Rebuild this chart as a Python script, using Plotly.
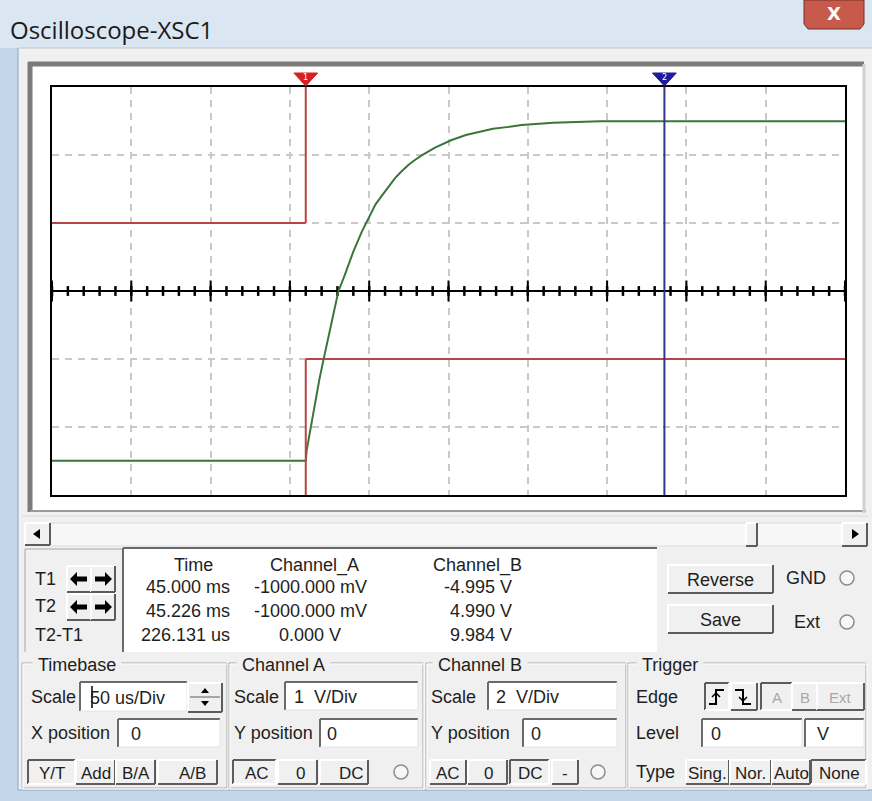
import numpy as np
import plotly.graph_objects as go

# ---------------- measurement data ----------------
# time axis: microseconds from the left edge of the screen (50 us/Div, 10 divisions)
t1_us = 160.0
t2_us = 386.131

# Channel A (1 V/Div): square wave stepping down at T1
chA_t = [0.0, 160.0, 160.0, 500.0]
chA_v = [1.0, 1.0, -1.0, -1.0]

# Channel B (2 V/Div): capacitor charging from -5 V to +5 V
chB_t = [0.0, 160.0, 160.6, 163.0, 165.8, 168.5, 171.1, 175.3, 180.5, 184.7,
         190.0, 195.3, 200.5, 204.0, 207.9, 212.0, 216.3, 220.0, 224.5, 229.0,
         233.1, 241.5, 252.0, 261.0, 269.9, 278.0, 286.7, 296.1, 315.9, 345.5,
         500.0]
chB_v = [-4.995, -4.995, -4.68, -4.05, -3.25, -2.62, -2.04, -1.16, -0.02, 0.48,
         1.16, 1.74, 2.25, 2.55, 2.80, 3.07, 3.32, 3.50, 3.70, 3.86,
         3.99, 4.22, 4.44, 4.59, 4.69, 4.77, 4.82, 4.88, 4.95, 4.99,
         4.99]

# cursor read-out table
readout_rows = ["T1", "T2", "T2-T1"]
readout_time = ["45.000 ms", "45.226 ms", "226.131 us"]
readout_chA = ["-1000.000 mV", "-1000.000 mV", "0.000 V"]
readout_chB = ["-4.995 V", "4.990 V", "9.984 V"]

scale_timebase = "50 us/Div"
scale_chA = "1  V/Div"
scale_chB = "2  V/Div"

# ---------------- helpers (pixel layout of the instrument window) ----------------
W, H = 872, 801
UI_FONT = "Liberation Sans, Arial, sans-serif"
TXT = "#1e1e1e"
FACE = "#f0f0f0"
DARK = "#5c5c5c"

shapes = []
annotations = []


def fx(x):
    return x / W


def fy(y):
    return 1 - y / H


def rect(x0, y0, x1, y1, fill=None, line=None, width=1):
    shapes.append(dict(type="rect", xref="paper", yref="paper",
                       x0=fx(x0), x1=fx(x1), y0=fy(y1), y1=fy(y0),
                       fillcolor=fill or "rgba(0,0,0,0)",
                       line=dict(color=line or "rgba(0,0,0,0)", width=width if line else 0),
                       layer="below"))


def line(x0, y0, x1, y1, color, width=1):
    shapes.append(dict(type="line", xref="paper", yref="paper",
                       x0=fx(x0), x1=fx(x1), y0=fy(y0), y1=fy(y1),
                       line=dict(color=color, width=width), layer="below"))


def path(points, fill, color=None, width=0):
    d = "M " + " L ".join(f"{fx(x):.5f},{fy(y):.5f}" for x, y in points) + " Z"
    shapes.append(dict(type="path", xref="paper", yref="paper", path=d,
                       fillcolor=fill, line=dict(color=color or fill, width=width),
                       layer="below"))


def polyline(points, color, width=2):
    d = "M " + " L ".join(f"{fx(x):.5f},{fy(y):.5f}" for x, y in points)
    shapes.append(dict(type="path", xref="paper", yref="paper", path=d,
                       line=dict(color=color, width=width), layer="below"))


def text(x, y, s, size=18, anchor="left", color=TXT, family=UI_FONT, bg=None, bold=False):
    if bold:
        s = f"<b>{s}</b>"
    annotations.append(dict(xref="paper", yref="paper", x=fx(x), y=fy(y), text=s,
                            showarrow=False, xanchor=anchor, yanchor="middle",
                            font=dict(family=family, size=size, color=color),
                            bgcolor=bg, borderpad=0))


def button(x0, y0, x1, y1, label="", pressed=False, tx=None, size=17, color=TXT):
    rect(x0, y0, x1, y1, fill=FACE)
    hi, lo = ("#ffffff", DARK) if not pressed else (DARK, "#ffffff")
    line(x0, y0, x1, y0, hi, 2)
    line(x0, y0, x0, y1, hi, 2)
    line(x0, y1, x1, y1, lo, 2)
    line(x1, y0, x1, y1, lo, 2)
    if label:
        text(tx if tx is not None else (x0 + x1) / 2, (y0 + y1) / 2 + 1, label,
             size=size, anchor="center", color=color)


def textbox(x0, y0, x1, y1, value="", tx=None, size=18):
    rect(x0, y0, x1, y1, fill="#ffffff")
    line(x0, y0, x1, y0, "#6a6a6a", 2)
    line(x0, y0, x0, y1, "#6a6a6a", 2)
    line(x0, y1, x1, y1, "#e2e2e2", 1)
    line(x1, y0, x1, y1, "#e2e2e2", 1)
    if value:
        text(tx if tx is not None else x0 + 6, (y0 + y1) / 2 + 1, value, size=size)


def group(x0, y0, x1, y1, title, tx):
    for dx, col in ((0, "#a6a6a6"), (1, "#ffffff")):
        line(x0 + dx, y0 + dx, x1 + dx, y0 + dx, col, 1)
        line(x0 + dx, y0 + dx, x0 + dx, y1 + dx, col, 1)
        line(x0 + dx, y1 + dx, x1 + dx, y1 + dx, col, 1)
        line(x1 + dx, y0 + dx, x1 + dx, y1 + dx, col, 1)
    text(tx, y0 + 2, "&nbsp;" + title + "&nbsp;", size=18, bg=FACE)


def radio(cx, cy):
    shapes.append(dict(type="circle", xref="paper", yref="paper",
                       x0=fx(cx - 7), x1=fx(cx + 7), y0=fy(cy + 7), y1=fy(cy - 7),
                       line=dict(color="#8c8c8c", width=1.5), fillcolor="#f7f7f7",
                       layer="below"))


def arrow(cx, cy, direction):
    s = -1 if direction == "left" else 1
    pts = [(cx + 9 * s, cy), (cx + 2 * s, cy - 7), (cx + 2 * s, cy - 2.5),
           (cx - 8 * s, cy - 2.5), (cx - 8 * s, cy + 2.5), (cx + 2 * s, cy + 2.5),
           (cx + 2 * s, cy + 7)]
    path(pts, "#000000")


# ---------------- window frame ----------------
rect(0, 0, W, 48, fill="#dae6f1")
rect(0, 48, 18, H, fill="#c3d6ea")
rect(0, 790, W, H, fill="#c3d6ea")
line(18, 48, 18, 790, "#8fa6bd", 1)
line(18, 48, W, 48, "#b8c6d4", 1)
line(18, 790, W, 790, "#8fa6bd", 1)

# close button
path([(804, 0), (864, 0), (864, 24), (860, 29), (808, 29), (804, 24)], "#c85a4c", "#7c2c22", 1)
text(834, 13, "X", size=18, anchor="center", color="#ffffff", bold=True,
     family="DejaVu Sans, sans-serif")
text(9, 30, "Oscilloscope-XSC1", size=24, color="#1a1a1a", family="Open Sans, sans-serif")

# ---------------- screen frame ----------------
rect(30, 64, 864, 512, fill="#ffffff")
line(28, 64, 864, 64, "#7b7b7b", 5)
line(30, 62, 30, 512, "#7b7b7b", 5)
line(30, 511, 866, 511, "#9a9a9a", 2)
line(864, 64, 864, 513, "#d0d0d0", 3)
line(22, 516, 868, 516, "#d8d8d8", 1)

# ---------------- scrollbar ----------------
rect(50, 523, 842, 546, fill="#f7f7f7")
line(50, 523, 842, 523, "#dcdcdc", 1)
line(50, 546, 842, 546, "#dcdcdc", 1)
button(25, 523, 50, 545)
path([(33, 534), (40, 529), (40, 539)], "#000000")
button(842, 523, 867, 546)
path([(859, 534), (852, 529), (852, 539)], "#000000")
button(746, 523, 757, 546)

# ---------------- cursor read-out ----------------
line(25, 549, 122, 549, "#a6a6a6", 1)
line(25, 549, 25, 652, "#a6a6a6", 1)
rect(123, 548, 657, 652, fill="#ffffff")
line(123, 548, 657, 548, "#6a6a6a", 2)
line(123, 548, 123, 652, "#6a6a6a", 2)

row_y = [579, 606, 635]
for name, yy in zip(readout_rows, row_y):
    text(34, yy, name, size=18)
for yy in (579, 607):
    button(67, yy - 13, 91, yy + 13)
    button(91, yy - 13, 115, yy + 13)
    arrow(79, yy, "left")
    arrow(103, yy, "right")

val_y = [587, 611, 635]
text(193, 565, "Time", anchor="center")
text(314, 565, "Channel_A", anchor="center")
text(432, 565, "Channel_B", anchor="left")
for yy, tm, a, b in zip(val_y, readout_time, readout_chA, readout_chB):
    text(231, yy, tm, anchor="right")
    text(310, yy, a, anchor="center")
    text(513, yy, b, anchor="right")

button(668, 565, 773, 593, "Reverse", size=18)
button(668, 605, 773, 633, "Save", size=18)
text(785, 578, "GND", size=18)
radio(847, 578)
text(793, 622, "Ext", size=18)
radio(847, 622)

# ---------------- control groups ----------------
group(22, 663, 227, 788, "Timebase", 32)
group(229, 663, 423, 788, "Channel A", 236)
group(426, 663, 626, 788, "Channel B", 432)
group(628, 663, 866, 788, "Trigger", 636)

# Timebase
text(30, 697, "Scale")
textbox(80, 682, 187, 711, scale_timebase, tx=89)
line(92, 686, 92, 708, "#000000", 1.5)
button(188, 683, 222, 712)
line(190, 697, 220, 697, DARK, 1)
path([(201, 693), (209, 693), (205, 688)], "#000000")
path([(201, 701), (209, 701), (205, 706)], "#000000")
text(30, 733, "X position")
textbox(118, 719, 220, 747, "0", tx=130)
button(28, 760, 75, 784, "Y/T", pressed=True)
button(76, 760, 115, 784, "Add")
button(116, 760, 155, 784, "B/A")
button(158, 760, 217, 784, "A/B", tx=192)

# Channel A
text(233, 697, "Scale")
textbox(285, 682, 418, 710, scale_chA, tx=293)
text(233, 733, "Y position")
textbox(320, 719, 418, 747, "0", tx=326)
button(233, 760, 276, 784, "AC", pressed=True, tx=257)
button(278, 760, 317, 784, "0", tx=300)
button(320, 760, 368, 784, "DC", tx=351)
radio(401, 772)

# Channel B
text(430, 697, "Scale")
textbox(488, 682, 617, 710, scale_chB, tx=495)
text(430, 733, "Y position")
textbox(523, 719, 617, 747, "0", tx=530)
button(430, 760, 466, 784, "AC", tx=448)
button(468, 760, 507, 784, "0", tx=488)
button(510, 760, 549, 784, "DC", pressed=True, tx=530)
button(552, 760, 578, 784, "-")
radio(598, 772)

# Trigger
text(635, 697, "Edge")
button(705, 683, 729, 710, pressed=True)
polyline([(709, 704), (716, 704), (716, 690), (724, 690)], "#000000")
polyline([(712, 697), (716, 693), (720, 697)], "#000000", 1.5)
button(731, 683, 757, 710)
polyline([(735, 690), (743, 690), (743, 704), (751, 704)], "#000000")
polyline([(739, 697), (743, 701), (747, 697)], "#000000", 1.5)
button(761, 683, 792, 710, "A", pressed=True, color="#a8a8a8", size=15)
button(792, 683, 817, 710, "B", color="#a8a8a8", size=15)
button(817, 683, 864, 710, "Ext", color="#a8a8a8", size=15)
text(635, 733, "Level")
textbox(702, 719, 802, 747, "0", tx=710)
textbox(805, 719, 864, 747, "V", tx=816)
text(635, 772, "Type")
button(686, 760, 729, 784, "Sing.", tx=707)
button(730, 760, 771, 784, "Nor.", tx=750)
button(772, 760, 810, 784, "Auto", tx=791)
button(811, 760, 866, 784, "None", pressed=True, tx=839)

# ---------------- oscilloscope screen ----------------
RED = "#b94444"
GREEN = "#3a763a"
BLUE = "#34348a"

fig = go.Figure()

# Channel A: levels before / after the step (transition hidden under the T1 cursor)
k = chA_t.index(t1_us)
fig.add_trace(go.Scatter(x=chA_t[:k + 1] + [None] + chA_t[k + 1:],
                         y=chA_v[:k + 1] + [None] + chA_v[k + 1:],
                         mode="lines", line=dict(color=RED, width=2), name="Channel_A"))

# Channel B on its own 2 V/Div scale
fig.add_trace(go.Scatter(x=chB_t, y=chB_v, yaxis="y2", mode="lines",
                         line=dict(color=GREEN, width=2), name="Channel_B"))

# centre axis with division and sub-division ticks
minor = np.arange(0, 501, 10)
major = np.arange(0, 501, 50)
fig.add_trace(go.Scatter(x=minor, y=np.zeros_like(minor), mode="markers",
                         marker=dict(symbol="line-ns", size=7,
                                     line=dict(color="#000000", width=2.5)),
                         hoverinfo="skip"))
fig.add_trace(go.Scatter(x=major, y=np.zeros_like(major), mode="markers",
                         marker=dict(symbol="line-ns", size=15,
                                     line=dict(color="#000000", width=2)),
                         hoverinfo="skip"))

# cursors: T1 (red) is broken where it crosses the Channel A step
hi_a = max(chA_v[k], chA_v[k + 1])
lo_a = min(chA_v[k], chA_v[k + 1])
for y0, y1 in ((hi_a, 3), (-3, lo_a)):
    shapes.append(dict(type="line", xref="x", yref="y", x0=t1_us, x1=t1_us, y0=y0, y1=y1,
                       line=dict(color=RED, width=2), layer="above"))
shapes.append(dict(type="line", xref="x", yref="y", x0=t2_us, x1=t2_us, y0=-3, y1=3,
                   line=dict(color=BLUE, width=2), layer="above"))

# cursor flags above the screen
half = 7.5  # half width of a flag, in microseconds
for tc, col, lab in ((t1_us, "#d42222", "1"), (t2_us, "#1c1c9c", "2")):
    shapes.append(dict(type="path", xref="x", yref="paper", layer="above",
                       path=f"M {tc - half},{fy(73):.5f} L {tc + half},{fy(73):.5f} "
                            f"L {tc},{fy(86):.5f} Z",
                       fillcolor=col, line=dict(color=col, width=1)))
    annotations.append(dict(xref="x", yref="paper", x=tc, y=fy(77), text=lab,
                            showarrow=False, xanchor="center", yanchor="middle",
                            font=dict(family="DejaVu Sans", size=8, color="#ffffff")))

grid = dict(showgrid=True, gridcolor="#c9c9c9", griddash="7px,6px", gridwidth=1.5,
            showticklabels=False, ticks="", showline=True, linecolor="#000000",
            linewidth=2, mirror=True, fixedrange=True)

fig.update_layout(
    width=W, height=H, autosize=False,
    margin=dict(l=0, r=0, t=0, b=0),
    paper_bgcolor=FACE, plot_bgcolor="#ffffff",
    showlegend=False, hovermode=False,
    xaxis=dict(domain=[fx(52), fx(845)], range=[0, 500], dtick=50, tick0=0,
               zeroline=False, **grid),
    yaxis=dict(domain=[fy(495), fy(87)], range=[-3, 3], dtick=1, tick0=0,
               zeroline=True, zerolinecolor="#000000", zerolinewidth=2, **grid),
    yaxis2=dict(overlaying="y", range=[-6, 6], visible=False, fixedrange=True),
    shapes=shapes, annotations=annotations,
)

fig.write_html("out.html")
